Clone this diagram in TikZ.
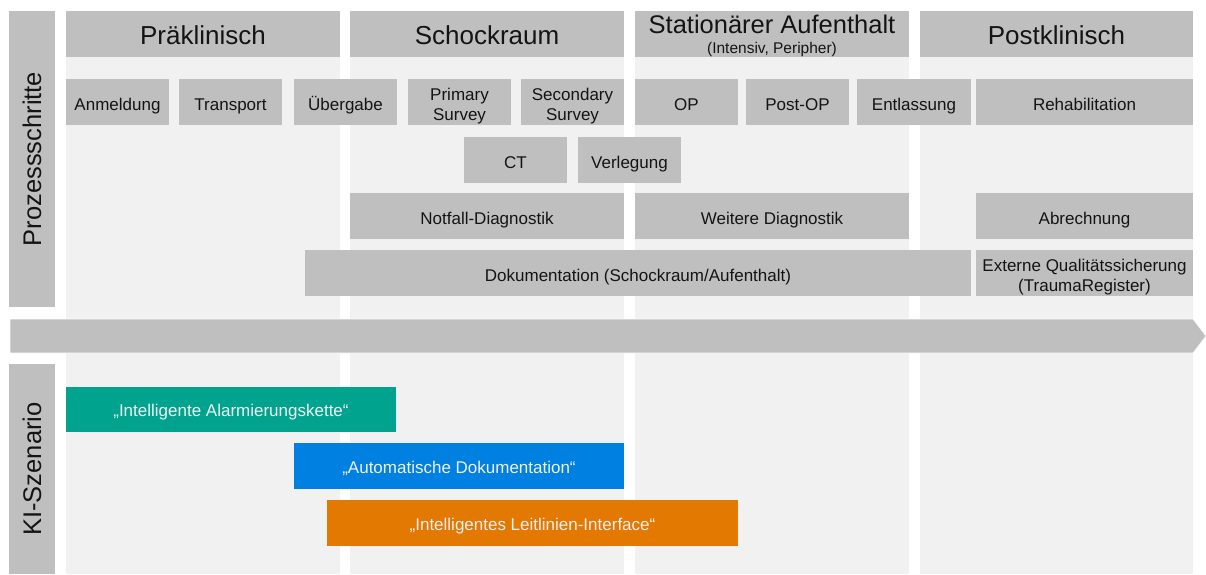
\documentclass[tikz,border=0pt]{standalone}
\usepackage{fontspec}
\setmainfont{Liberation Sans}
\definecolor{gbox}{HTML}{BFBFBF}
\definecolor{lbg}{HTML}{F1F1F1}
\definecolor{tealk}{HTML}{00A38E}
\definecolor{bluek}{HTML}{0080E0}
\definecolor{orangek}{HTML}{E37900}
\definecolor{txt}{HTML}{141414}
\begin{document}
\begin{tikzpicture}[x=1pt,y=-1pt,
  hdr/.style={fill=gbox,draw=none,inner sep=0pt,minimum height=46,text=txt,text height=20pt,text depth=0pt,font=\fontsize{26}{28}\selectfont},
  pbox/.style={fill=gbox,draw=none,inner sep=0pt,minimum height=46,text=txt,align=center,text height=16pt,text depth=0pt,font=\fontsize{17}{20}\selectfont},
  pbtwo/.style={fill=gbox,draw=none,inner sep=0pt,minimum height=46,text=txt,align=center,font=\fontsize{17}{20}\selectfont},
  side/.style={fill=gbox,draw=none,inner sep=0pt,minimum height=46,text=txt,rotate=90,font=\fontsize{25.5}{28}\selectfont},
  kbox/.style={draw=none,inner sep=0pt,minimum height=46,text=lbg,text height=14.5pt,text depth=0pt,font=\fontsize{17}{20}\selectfont},
  plain/.style={inner sep=0pt,text=txt}]
\useasboundingbox (0,0) rectangle (1206,574);
\fill[white] (0,0) rectangle (1206,574);
% column backgrounds
\fill[lbg] (66,11) rectangle (340,574);
\fill[lbg] (350,11) rectangle (624,574);
\fill[lbg] (635,11) rectangle (909,574);
\fill[lbg] (920,11) rectangle (1193,574);
% side labels
\node[side,minimum width=296] (prozess) at (32,159) {Prozessschritte};
\node[side,minimum width=210] (ki) at (32,469) {KI-Szenario};
% headers
\node[hdr,minimum width=274] (h1) at (203,34) {Präklinisch};
\node[hdr,minimum width=274] (h2) at (487,34) {Schockraum};
\node[hdr,minimum width=274] (h3) at (772,34) {};
\node[plain,font=\fontsize{25.5}{28}\selectfont] (h3a) at (772,24.5) {Stationärer Aufenthalt};
\node[plain,font=\fontsize{15.5}{18}\selectfont] (h3b) at (772,49.5) {(Intensiv, Peripher)};
\node[hdr,minimum width=273] (h4) at (1056.5,34) {Postklinisch};
% row 1
\node[pbox,minimum width=103] (anm) at (117.5,102) {Anmeldung};
\node[pbox,minimum width=103] (tra) at (230.5,102) {Transport};
\node[pbox,minimum width=103] (ueb) at (345.5,102) {Übergabe};
\node[pbtwo,minimum width=103] (pri) at (459.5,102) {};
\node[plain,font=\fontsize{17}{20}\selectfont,align=center,yshift=-3.6pt] (prit) at (pri) {Primary\\Survey};
\node[pbtwo,minimum width=103] (sec) at (572.5,102) {};
\node[plain,font=\fontsize{17}{20}\selectfont,align=center,yshift=-3.6pt] (sect) at (sec) {Secondary\\Survey};
\node[pbox,minimum width=103] (op) at (686.5,102) {OP};
\node[pbox,minimum width=103] (pop) at (797.5,102) {Post-OP};
\node[pbox,minimum width=114] (ent) at (914,102) {Entlassung};
\node[pbox,minimum width=217] (reh) at (1084.5,102) {Rehabilitation};
% row 2
\node[pbox,minimum width=103] (ct) at (515.5,160) {CT};
\node[pbox,minimum width=103] (ver) at (629.5,160) {Verlegung};
% row 3
\node[pbox,minimum width=274] (nd) at (487,216) {Notfall-Diagnostik};
\node[pbox,minimum width=274] (wd) at (772,216) {Weitere Diagnostik};
\node[pbox,minimum width=217] (abr) at (1084.5,216) {Abrechnung};
% row 4
\node[pbox,minimum width=666] (dok) at (638,273) {Dokumentation (Schockraum/Aufenthalt)};
\node[pbtwo,minimum width=217] (ext) at (1084.5,273) {};
\node[plain,font=\fontsize{17}{20}\selectfont,align=center,yshift=-3.6pt] (extt) at (ext) {Externe Qualitätssicherung\\(TraumaRegister)};
% arrow bar
\filldraw[fill=gbox,draw=white,line width=0.6pt] (10,319) -- (1193,319) -- (1206,336) -- (1193,353) -- (10,353) -- cycle;
% KI scenarios
\node[kbox,fill=tealk,minimum width=330,minimum height=45] (k1) at (231,409.5) {„Intelligente Alarmierungskette“};
\node[kbox,fill=bluek,minimum width=330] (k2) at (459,466) {„Automatische Dokumentation“};
\node[kbox,fill=orangek,minimum width=411] (k3) at (532.5,523) {„Intelligentes Leitlinien-Interface“};
\end{tikzpicture}
\end{document}
